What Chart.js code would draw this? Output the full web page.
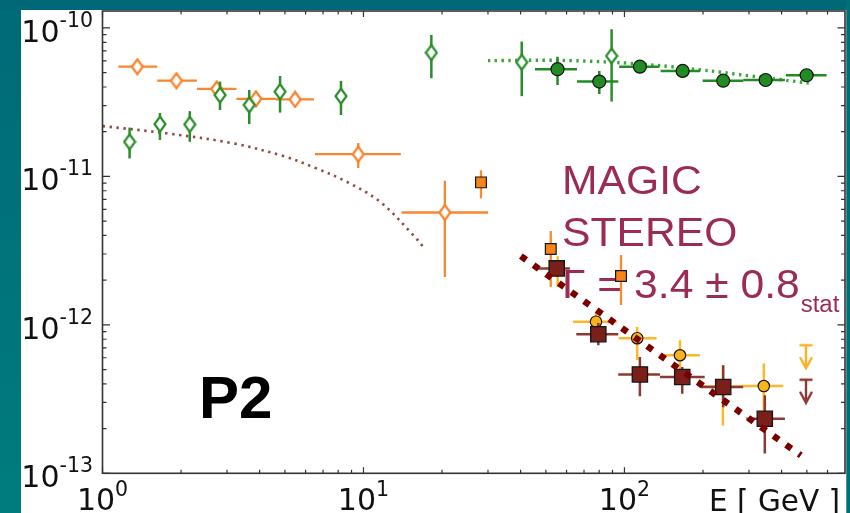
<!DOCTYPE html>
<html><head><meta charset="utf-8">
<style>html,body{margin:0;padding:0;background:#00737b;overflow:hidden}canvas{display:block}</style>
<script src="https://cdn.jsdelivr.net/npm/chart.js@4.4.1/dist/chart.umd.min.js"></script>
</head><body><canvas id="c" width="850" height="513"></canvas>
<script>
// ---------- DATA (E in GeV, E^2 dN/dE) ----------
// Fermi-LAT analysis 1 (orange open diamonds)
const lat1E   = [1.36, 1.92, 2.74, 3.87, 5.47, 9.55, 20.5];
const lat1F   = [5.48e-11, 4.41e-11, 3.88e-11, 3.33e-11, 3.30e-11, 1.41e-11, 5.71e-12];
const lat1Elo = [1.15, 1.62, 2.30, 3.26, 4.62, 6.52, 14.0];
const lat1Ehi = [1.62, 2.30, 3.26, 4.62, 6.46, 13.9, 30.0];
const lat1Flo = [5.2e-11, 4.2e-11, 3.7e-11, 3.15e-11, 3.12e-11, 1.14e-11, 2.10e-12];
const lat1Fhi = [5.8e-11, 4.6e-11, 4.1e-11, 3.5e-11, 3.5e-11, 1.68e-11, 9.33e-12];
// Fermi-LAT analysis 2 (green open diamonds)
const lat2E   = [1.27, 1.66, 2.16, 2.82, 3.65, 4.79, 8.20, 18.2, 40.4, 89.3];
const lat2F   = [1.71e-11, 2.25e-11, 2.24e-11, 3.53e-11, 3.03e-11, 3.72e-11, 3.47e-11, 6.81e-11, 5.87e-11, 6.47e-11];
const lat2Flo = [1.32e-11, 1.76e-11, 1.71e-11, 2.80e-11, 2.25e-11, 2.69e-11, 2.59e-11, 4.58e-11, 3.47e-11, 3.19e-11];
const lat2Fhi = [2.13e-11, 2.67e-11, 2.75e-11, 4.35e-11, 3.82e-11, 4.74e-11, 4.40e-11, 8.97e-11, 8.09e-11, 9.80e-11];
// green filled circles
const grnE   = [55.4, 80.1, 114.6, 167.1, 239.0, 347.5, 499];
const grnF   = [5.27e-11, 4.35e-11, 5.48e-11, 5.13e-11, 4.41e-11, 4.46e-11, 4.80e-11];
const grnElo = [45.4, 65.8, 95.5, 137.6, 199.3, 285.3, 415.6];
const grnEhi = [65.8, 94.7, 135.9, 194.6, 285.3, 412, 595];
const grnFlo = [4.13e-11, 3.59e-11, 5.2e-11, 4.9e-11, 4.2e-11, 4.25e-11, 4.6e-11];
const grnFhi = [6.40e-11, 5.13e-11, 5.75e-11, 5.4e-11, 4.65e-11, 4.7e-11, 5.0e-11];
// green dotted model
const grnFitE = [30.0, 56.6, 96.1, 137, 213, 330, 510];
const grnFitF = [6.02e-11, 6.05e-11, 5.83e-11, 5.57e-11, 5.13e-11, 4.66e-11, 4.25e-11];
// brown dotted model (low energy)
const brnFitE = [1.0, 1.76, 3.16, 4.93, 6.62, 8.62, 11.57, 15.52, 16.95];
const brnFitF = [2.18e-11, 1.95e-11, 1.67e-11, 1.37e-11, 1.13e-11, 9.20e-12, 6.75e-12, 4.02e-12, 3.35e-12];
// orange filled squares
const orgSqE   = [28.2, 52.2, 97.0];
const orgSqF   = [9.11e-12, 3.24e-12, 2.13e-12];
const orgSqFlo = [7.11e-12, 1.80e-12, 1.36e-12];
const orgSqFhi = [1.10e-11, 4.28e-12, 2.95e-12];
// MAGIC stereo (dark red squares)
const magE   = [55.0, 79.4, 114.6, 166.5, 239, 345];
const magF   = [2.40e-12, 8.65e-13, 4.63e-13, 4.45e-13, 3.81e-13, 2.33e-13];
const magElo = [46.6, 65.4, 94.7, 136.8, 198, 293];
const magEhi = [61.8, 94.7, 136.8, 203, 285, 412];
const magFlo = [2.1e-12, 7.28e-13, 3.30e-13, 3.44e-13, 2.79e-13, 1.36e-13];
const magFhi = [2.7e-12, 1.03e-12, 6.08e-13, 5.20e-13, 5.35e-13, 3.35e-13];
// yellow filled circles
const ylwE   = [55.5, 77.8, 111.9, 163.2, 238.4, 342];
const ylwF   = [2.45e-12, 1.05e-12, 8.13e-13, 6.24e-13, 3.85e-13, 3.87e-13];
const ylwElo = [52, 63.5, 95.1, 136.4, 198, 281];
const ylwEhi = [59, 93.4, 132.8, 194.6, 285, 406];
const ylwFlo = [1.8e-12, 9.0e-13, 5.77e-13, 4.94e-13, 2.10e-13, 2.65e-13];
const ylwFhi = [2.9e-12, 1.2e-12, 9.68e-13, 7.87e-13, 5.35e-13, 5.48e-13];
// upper limits (yellow, dark red)
const ulE = [496, 496];
const ulF = [7.29e-13, 4.27e-13];
// MAGIC power-law fit
const magFitE = [40.1, 474];
const magFitF = [2.90e-12, 1.32e-13];
// axes
const xTickVals = [1, 10, 100];
const xTickExp  = ['0', '1', '2'];
const yTickVals = [1e-13, 1e-12, 1e-11, 1e-10];
const yTickExp  = ['-13', '-12', '-11', '-10'];
const xAxisLabel = 'E [ GeV ]';
const panelLabel = 'P2';
const magicLines = ['MAGIC', 'STEREO'];
const gammaText = 'Γ = 3.4 ± 0.8';
const gammaSub = 'stat';

// ---------- helpers ----------
function pts(E, F, Elo, Ehi, Flo, Fhi) {
  return E.map((e, i) => ({x: e, y: F[i],
    xMin: Elo ? Elo[i] : null, xMax: Ehi ? Ehi[i] : null,
    yMin: Flo ? Flo[i] : null, yMax: Fhi ? Fhi[i] : null}));
}
function line(E, F) { return E.map((e, i) => ({x: e, y: F[i]})); }
function diamond(color) {
  const c = document.createElement('canvas'); c.width = 14; c.height = 18;
  const g = c.getContext('2d');
  g.beginPath(); g.moveTo(7, 1.5); g.lineTo(12.5, 9); g.lineTo(7, 16.5); g.lineTo(1.5, 9); g.closePath();
  g.fillStyle = '#fff'; g.fill(); g.strokeStyle = color; g.lineWidth = 2.2; g.stroke();
  return c;
}
function ulMark(color) {
  const c = document.createElement('canvas'); c.width = 16; c.height = 50;
  const g = c.getContext('2d');
  g.strokeStyle = color; g.lineWidth = 2.4; g.lineCap = 'butt';
  g.beginPath(); g.moveTo(1.5, 25); g.lineTo(14.5, 25);
  g.moveTo(8, 25); g.lineTo(8, 48);
  g.moveTo(2, 37); g.lineTo(8, 48); g.lineTo(14, 37); g.stroke();
  return c;
}

const errorBars = {
  id: 'errorBars',
  beforeDatasetDraw(chart, args) {
    const ds = chart.data.datasets[args.index];
    if (!ds.errColor) return;
    const xs = chart.scales.x, ys = chart.scales.y, ctx = chart.ctx;
    ctx.save();
    ctx.strokeStyle = ds.errColor; ctx.lineWidth = ds.errWidth || 2.2; ctx.lineCap = 'butt';
    ds.data.forEach(p => {
      const px = xs.getPixelForValue(p.x), py = ys.getPixelForValue(p.y);
      ctx.beginPath();
      if (p.xMin != null) { ctx.moveTo(xs.getPixelForValue(p.xMin), py); ctx.lineTo(xs.getPixelForValue(p.xMax), py); }
      if (p.yMin != null) { ctx.moveTo(px, ys.getPixelForValue(p.yMin)); ctx.lineTo(px, ys.getPixelForValue(p.yMax)); }
      ctx.stroke();
    });
    ctx.restore();
  }
};

const decor = {
  id: 'decor',
  beforeDraw(chart) {
    const ctx = chart.ctx;
    ctx.save();
    const gr = ctx.createLinearGradient(0, 0, 0, 513);
    gr.addColorStop(0, '#006a78'); gr.addColorStop(1, '#007c7e');
    ctx.fillStyle = gr; ctx.fillRect(0, 0, 850, 513);
    ctx.fillStyle = '#006776'; ctx.fillRect(0, 0, 850, 10);
    ctx.fillStyle = '#ffffff'; ctx.fillRect(21, 10, 825.5, 503);
    ctx.restore();
  },
  beforeDatasetsDraw(chart) {
    const ctx = chart.ctx;
    ctx.save();
    ctx.fillStyle = '#000';
    ctx.font = 'bold 60px "Liberation Sans", Arial, sans-serif';
    ctx.textBaseline = 'alphabetic';
    ctx.fillText(panelLabel, 199, 418);
    ctx.fillStyle = '#9b2b55';
    const sx = 1.04;
    function txt(s, x, y, size) {
      ctx.save(); ctx.translate(x, y); ctx.scale(sx, 1);
      ctx.font = size + 'px "Liberation Sans", Arial, sans-serif';
      ctx.fillText(s, 0, 0); const w = ctx.measureText(s).width * sx; ctx.restore(); return w;
    }
    txt(magicLines[0], 562, 194, 41);
    txt(magicLines[1], 562, 245.5, 41);
    const w = txt(gammaText, 562, 298, 41);
    txt(gammaSub, 562 + w + 1, 312, 23);
    ctx.restore();
  },
  afterDraw(chart) {
    const ctx = chart.ctx, xs = chart.scales.x, ys = chart.scales.y, a = chart.chartArea;
    ctx.save();
    // right teal strip (clips text)
    ctx.fillStyle = '#007077'; ctx.fillRect(846.5, 0, 4, 513);
    ctx.strokeStyle = '#333'; ctx.lineWidth = 1.6;
    ctx.strokeRect(a.left, a.top, a.right - a.left, a.bottom - a.top);
    ctx.lineWidth = 1.2;
    ctx.beginPath();
    // x ticks
    for (let d = 0; d < 3; d++) {
      for (let k = 1; k < 10; k++) {
        const v = k * Math.pow(10, d);
        if (v >= 700) continue;
        const px = xs.getPixelForValue(v), L = k === 1 ? 6 : 3.5;
        ctx.moveTo(px, a.bottom); ctx.lineTo(px, a.bottom - L);
        ctx.moveTo(px, a.top); ctx.lineTo(px, a.top + L);
      }
    }
    // y ticks
    for (let d = -13; d <= -10; d++) {
      for (let k = 1; k < 10; k++) {
        const v = k * Math.pow(10, d);
        if (v > 1.3e-10) continue;
        const py = ys.getPixelForValue(v), L = k === 1 ? 7.5 : 4;
        ctx.moveTo(a.left, py); ctx.lineTo(a.left + L, py);
        ctx.moveTo(a.right, py); ctx.lineTo(a.right - L, py);
      }
    }
    ctx.stroke();
    // tick labels
    ctx.fillStyle = '#111';
    ctx.textBaseline = 'alphabetic'; ctx.textAlign = 'left';
    const bigF = '30px "DejaVu Sans", sans-serif', smF = '20.5px "DejaVu Sans", sans-serif';
    yTickVals.forEach((v, i) => {
      const py = ys.getPixelForValue(v);
      ctx.font = smF; const ew = ctx.measureText(yTickExp[i]).width;
      ctx.font = bigF; const bw = ctx.measureText('10').width;
      const right = 93;
      ctx.fillText('10', right - ew - bw, py + 14);
      ctx.font = smF; ctx.fillText(yTickExp[i], right - ew, py - 1);
    });
    xTickVals.forEach((v, i) => {
      const px = xs.getPixelForValue(v);
      ctx.font = smF; const ew = ctx.measureText(xTickExp[i]).width;
      ctx.font = bigF; const bw = ctx.measureText('10').width;
      const left = px - (ew + bw) / 2;
      ctx.fillText('10', left, 510);
      ctx.font = smF; ctx.fillText(xTickExp[i], left + bw, 496);
    });
    ctx.font = '29.5px "DejaVu Sans", sans-serif';
    ctx.fillText(xAxisLabel, 709, 511);
    ctx.restore();
  }
};

const dsets = [
  {label: 'MAGIC fit', type: 'line', data: line(magFitE, magFitF), borderColor: '#7a0000',
   borderWidth: 6.5, borderDash: [6.5, 9], borderCapStyle: 'butt', pointRadius: 0, showLine: true, fill: false},
  {label: 'UL', data: line(ulE, ulF), pointStyle: [ulMark('#fbb227'), ulMark('#8a3a33')], pointRadius: 8},
  {label: 'MAGIC stereo', data: pts(magE, magF, magElo, magEhi, magFlo, magFhi), pointStyle: 'rect',
   pointRadius: 10.8, backgroundColor: '#7a1f1a', borderColor: '#151515', borderWidth: 1.3,
   errColor: '#8a3a33', errWidth: 2.5},
  {label: 'yellow', data: pts(ylwE, ylwF, ylwElo, ylwEhi, ylwFlo, ylwFhi), pointStyle: 'circle',
   pointRadius: 5.7, backgroundColor: '#fbb31c', borderColor: '#151515', borderWidth: 1.2,
   errColor: '#fdb82a', errWidth: 2.5},
  {label: 'orange squares', data: pts(orgSqE, orgSqF, null, null, orgSqFlo, orgSqFhi), pointStyle: 'rect',
   pointRadius: 7.6, backgroundColor: '#fa8418', borderColor: '#151515', borderWidth: 1.2,
   errColor: '#f98b2a', errWidth: 2.3},
  {label: 'green circles', data: pts(grnE, grnF, grnElo, grnEhi, grnFlo, grnFhi), pointStyle: 'circle',
   pointRadius: 6.5, backgroundColor: '#238b23', borderColor: '#111', borderWidth: 1.2,
   errColor: '#238b23', errWidth: 2.5},
  {label: 'LAT 2', data: pts(lat2E, lat2F, null, null, lat2Flo, lat2Fhi), pointStyle: diamond('#2a8f2a'),
   pointRadius: 8, errColor: '#2a8f2a', errWidth: 2.5},
  {label: 'LAT 1', data: pts(lat1E, lat1F, lat1Elo, lat1Ehi, lat1Flo, lat1Fhi), pointStyle: diamond('#f9822a'),
   pointRadius: 8, errColor: '#f9862e', errWidth: 2.3},
  {label: 'low model', type: 'line', data: line(brnFitE, brnFitF), borderColor: '#934a40',
   borderWidth: 2.6, borderDash: [2.4, 4.6], borderCapStyle: 'butt', pointRadius: 0, tension: 0.35, fill: false},
  {label: 'high model', type: 'line', data: line(grnFitE, grnFitF), borderColor: '#3ca43c',
   borderWidth: 3.4, borderDash: [2.4, 4.4], borderCapStyle: 'butt', pointRadius: 0, tension: 0.3, fill: false}
];

new Chart(document.getElementById('c'), {
  type: 'scatter',
  data: {datasets: dsets},
  options: {
    responsive: false, animation: false, devicePixelRatio: 1,
    layout: {autoPadding: false, padding: {left: 102.5, right: 5, top: 11, bottom: 39.7}},
    scales: {
      x: {type: 'logarithmic', min: 1, max: 700, display: false},
      y: {type: 'logarithmic', min: 1e-13, max: 1.3e-10, display: false}
    },
    plugins: {legend: {display: false}, tooltip: {enabled: false}}
  },
  plugins: [errorBars, decor]
});
</script></body></html>
